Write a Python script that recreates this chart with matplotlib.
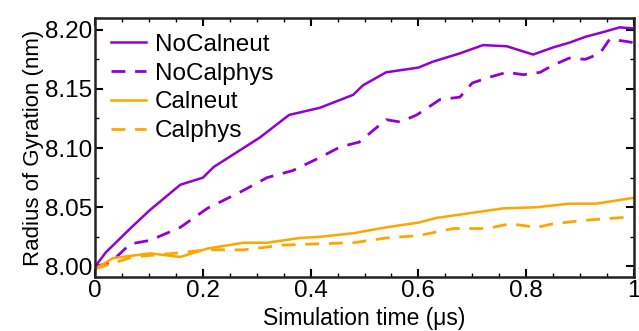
import matplotlib
matplotlib.use("Agg")
import matplotlib.pyplot as plt
from matplotlib.ticker import MultipleLocator

plt.rcParams['font.family'] = ['Liberation Sans', 'DejaVu Sans']

# time (us) and radius of gyration (nm)
t_nocalneut = [0, 0.02, 0.065, 0.10, 0.158, 0.20, 0.22, 0.306, 0.36, 0.417, 0.479, 0.497,
               0.54, 0.60, 0.627, 0.677, 0.72, 0.764, 0.813, 0.85, 0.88, 0.91, 0.943, 0.974, 1.0]
rg_nocalneut = [8.000, 8.012, 8.032, 8.047, 8.069, 8.075, 8.084, 8.109, 8.128, 8.134, 8.145, 8.153,
                8.164, 8.168, 8.173, 8.180, 8.187, 8.186, 8.179, 8.185, 8.189, 8.194, 8.198, 8.202, 8.201]

t_nocalphys = [0, 0.028, 0.065, 0.102, 0.158, 0.208, 0.27, 0.319, 0.367, 0.417, 0.455, 0.49,
               0.54, 0.566, 0.597, 0.64, 0.677, 0.70, 0.733, 0.764, 0.795, 0.826, 0.85, 0.88,
               0.91, 0.937, 0.955, 0.987, 1.0]
rg_nocalphys = [8.000, 8.003, 8.019, 8.022, 8.033, 8.049, 8.063, 8.075, 8.081, 8.092, 8.101, 8.105,
                8.124, 8.122, 8.128, 8.141, 8.143, 8.155, 8.160, 8.164, 8.162, 8.164, 8.170, 8.176,
                8.175, 8.180, 8.192, 8.190, 8.189]

t_calneut = [0, 0.033, 0.102, 0.158, 0.208, 0.275, 0.319, 0.38, 0.417, 0.479, 0.54, 0.60,
             0.634, 0.696, 0.757, 0.82, 0.88, 0.93, 1.0]
rg_calneut = [7.998, 8.007, 8.011, 8.008, 8.015, 8.020, 8.020, 8.024, 8.025, 8.028, 8.033, 8.037,
              8.041, 8.045, 8.049, 8.050, 8.053, 8.053, 8.058]

t_calphys = [0, 0.07, 0.145, 0.208, 0.275, 0.35, 0.41, 0.479, 0.54, 0.60, 0.665, 0.727,
             0.77, 0.82, 0.85, 0.91, 1.0]
rg_calphys = [7.998, 8.008, 8.011, 8.014, 8.014, 8.018, 8.019, 8.020, 8.024, 8.026, 8.032, 8.032,
              8.036, 8.033, 8.036, 8.039, 8.042]

purple = '#9400d3'
orange = '#ffa500'

fig = plt.figure(figsize=(6.39, 3.31), dpi=100)
ax = fig.add_axes([0.149, 0.163, 0.843, 0.783])

ax.plot(t_nocalneut, rg_nocalneut, color=purple, lw=1.8, label='NoCalneut')
ax.plot(t_nocalphys, rg_nocalphys, color=purple, lw=2.0, ls=(0, (5, 3.5)), label='NoCalphys')
ax.plot(t_calneut, rg_calneut, color=orange, lw=1.8, label='Calneut')
ax.plot(t_calphys, rg_calphys, color=orange, lw=2.0, ls=(0, (5, 3.5)), label='Calphys')

ax.set_xlim(0, 1)
ax.set_ylim(7.991, 8.210)
ax.xaxis.set_minor_locator(MultipleLocator(0.05))
ax.yaxis.set_minor_locator(MultipleLocator(0.025))
ax.set_xticks([0, 0.2, 0.4, 0.6, 0.8, 1.0])
ax.set_xticklabels(['0', '0.2', '0.4', '0.6', '0.8', '1'])
ax.set_yticks([8.00, 8.05, 8.10, 8.15, 8.20])
ax.set_yticklabels(['8.00', '8.05', '8.10', '8.15', '8.20'])
ax.tick_params(which='both', direction='in', top=True, right=True, labelsize=17.5)
ax.tick_params(axis='x', pad=2)
ax.tick_params(axis='y', pad=2)
ax.tick_params(which='major', length=6, width=1.5)
ax.tick_params(which='minor', length=3, width=1)
for s in ax.spines.values():
    s.set_linewidth(1.8)
    s.set_color('#222222')

ax.set_xlabel('Simulation time (\u03bcs)', fontsize=16.5, labelpad=4)
ax.set_ylabel('Radius of Gyration (nm)', fontsize=16, labelpad=1)

ax.legend(loc='upper left', frameon=False, fontsize=17.5, handlelength=1.45,
          handletextpad=0.35, labelspacing=0.28, borderaxespad=0.45,
          borderpad=0.2)

fig.savefig('out.png', dpi=100)
